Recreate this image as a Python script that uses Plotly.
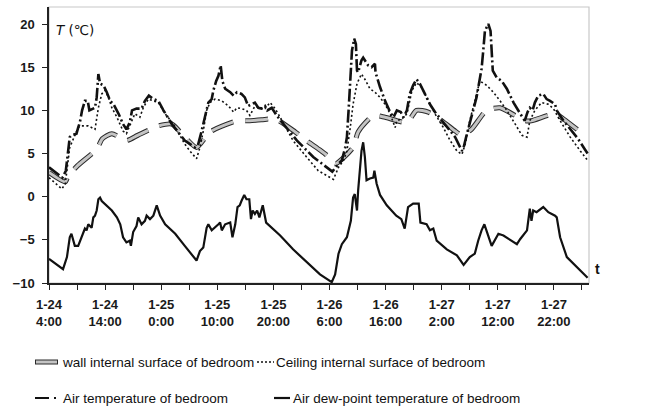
import plotly.graph_objects as go

# hours since 1-24 4:00
dew_h = [0, 2.5, 3.2, 3.7, 4.0, 4.6, 5.2, 5.8, 6.4, 6.7, 7.0, 7.6, 7.9, 8.2, 8.5, 8.8, 9.1, 9.4, 10.3, 11.2,
         12.1, 12.7, 13.2, 13.8, 14.4, 14.6, 15.0, 15.6, 15.9, 16.5, 17.1, 17.4, 18.0, 18.6, 19.2, 19.8, 20.7,
         22.5, 24.2, 26.3, 26.9, 27.5, 28.1, 28.4, 29.0, 29.6, 30.2, 30.5, 30.8, 31.4, 32.3, 32.7, 33.2, 33.6,
         34.0, 34.3, 34.8, 35.2, 35.7, 36.0, 36.3, 36.7, 37.1, 37.5, 38.1, 38.7, 39.4, 41.2, 43.5, 45.9, 48.3,
         50.4, 51.0, 51.6, 52.2, 53.1, 53.4, 53.8, 54.2, 54.5, 54.9, 55.1, 55.7, 56.0, 56.3, 56.6, 57.2, 57.8,
         58.0, 58.4, 59.0, 60.2, 61.9, 62.8, 63.4, 64.0, 64.9, 65.9, 66.2, 67.3, 67.9, 68.5, 69.1, 70.9, 72.7,
         73.9, 75.0, 75.9, 76.5, 77.1, 77.6, 78.9, 80.1, 81.0, 83.4, 84.0, 85.2, 85.7, 86.0, 86.3, 86.9, 88.1,
         89.0, 90.2, 90.5, 91.1, 92.3, 94.1, 96.0]
dew_v = [-7.2, -8.4, -7.0, -4.7, -4.3, -5.7, -5.7, -4.7, -3.7, -3.9, -3.2, -3.6, -2.4, -2.2, -1.6, -0.3, -0.1, -0.5, -1.0, -1.6,
         -2.4, -3.2, -4.7, -5.3, -5.1, -5.7, -4.1, -3.4, -2.4, -3.2, -2.8, -2.2, -2.6, -2.2, -1.0, -2.2, -3.2,
         -4.3, -5.7, -7.4, -6.3, -5.9, -3.6, -3.2, -3.9, -3.6, -3.2, -3.0, -3.9, -3.2, -3.0, -4.7, -3.2, -1.2,
         -1.0, -0.5, 0.2, -0.3, -0.3, -2.6, -1.6, -2.0, -1.6, -2.4, -1.0, -3.0, -3.4, -4.5, -6.1, -7.6, -9.0,
         -9.9, -9.0, -6.6, -5.5, -4.7, -3.9, -2.8, -0.1, 0.3, -1.6, 0.7, 5.3, 6.3, 4.6, 1.9, 2.1, 2.2,
         3.0, 1.5, 0.2, -1.0, -2.2, -2.6, -3.7, -1.2, -0.8, -0.8, -3.0, -3.2, -3.9, -3.7, -5.1, -6.1, -6.8,
         -7.9, -7.0, -6.6, -5.1, -3.9, -3.2, -5.7, -4.3, -4.5, -5.5, -4.9, -3.9, -1.4, -2.8, -1.6, -1.8, -1.2,
         -1.8, -2.2, -2.4, -4.7, -7.0, -8.2, -9.4]

air_h = [0, 2.4, 3.0, 3.4, 3.7, 4.0, 4.9, 5.2, 5.5, 5.9, 6.4, 6.9, 7.2, 8.2, 8.5, 8.8, 9.1, 9.7, 10.3, 10.9,
         11.5, 12.4, 13.2, 13.8, 14.4, 14.8, 15.6, 16.5, 17.1, 17.8, 18.6, 19.5, 20.4, 21.9, 23.0, 24.2, 26.0,
         26.6, 27.2, 27.8, 28.4, 29.0, 29.3, 29.8, 30.2, 30.6, 30.9, 31.4, 32.3, 32.9, 33.5, 34.3, 34.9, 35.5,
         36.1, 36.7, 37.3, 37.9, 38.5, 38.9, 39.7, 40.6, 41.8, 44.2, 47.1, 48.3, 50.5, 51.6, 52.2, 52.8, 53.1,
         53.4, 53.7, 54.0, 54.4, 54.7, 54.9, 55.1, 55.7, 56.0, 56.9, 57.5, 58.1, 58.2, 59.0, 59.9, 60.8, 61.4,
         62.0, 62.7, 63.2, 63.8, 64.3, 64.9, 65.5, 66.1, 67.0, 67.9, 68.8, 70.3, 72.4, 73.6, 73.9, 74.5, 75.0,
         75.6, 76.2, 76.7, 77.1, 77.4, 77.7, 78.3, 78.7, 78.9, 79.1, 79.8, 80.7, 81.6, 82.8, 84.0, 84.8, 85.3,
         85.7, 86.2, 86.6, 87.2, 88.1, 88.7, 89.3, 90.2, 90.5, 91.7, 92.9, 94.3, 95.5, 96.0]
air_v = [3.4, 2.2, 3.0, 5.7, 6.9, 7.1, 7.3, 8.0, 8.6, 10.0, 11.1, 11.1, 10.0, 10.3, 11.5, 14.2, 13.1, 12.9, 12.1, 11.1,
         10.7, 9.6, 8.4, 7.8, 8.6, 10.0, 10.2, 10.2, 11.1, 11.7, 11.3, 11.1, 10.0, 8.4, 7.5, 6.5, 5.7,
         6.1, 7.6, 9.2, 10.9, 11.3, 12.3, 13.4, 14.0, 15.2, 13.4, 12.5, 12.1, 11.7, 12.1, 11.9, 11.5, 10.5,
         10.7, 10.9, 10.3, 10.2, 10.5, 10.0, 10.3, 9.4, 8.4, 6.5, 4.6, 4.0, 2.9, 3.8, 4.2, 5.7, 6.9,
         10.0, 13.1, 16.9, 18.3, 17.7, 14.6, 14.4, 15.8, 16.1, 15.2, 15.0, 15.4, 14.4, 12.7, 11.1, 9.8, 9.2,
         10.0, 9.8, 9.2, 10.0, 11.9, 12.9, 13.6, 13.1, 11.9, 10.7, 9.8, 8.6, 6.9, 5.3, 5.7, 7.3, 8.4,
         10.0, 11.5, 13.1, 14.8, 16.9, 19.2, 20.0, 19.2, 16.9, 14.6, 13.8, 13.4, 12.5, 10.9, 9.6, 8.8, 9.8,
         10.3, 10.0, 10.9, 11.7, 11.9, 11.3, 11.1, 10.7, 10.0, 8.8, 7.8, 6.7, 5.5, 5.0]

ceil_h = [0, 2.3, 2.9, 3.3, 3.7, 4.6, 5.2, 5.8, 7.0, 8.2, 8.8, 9.4, 10.0, 10.6, 11.2, 12.1, 13.2, 13.8, 14.7,
          15.3, 16.2, 16.8, 17.7, 18.6, 19.5, 20.7, 22.2, 24.2, 25.1, 26.3, 26.9, 27.5, 28.1, 28.7, 29.6, 30.8,
          32.0, 32.9, 33.5, 34.3, 35.2, 35.8, 36.7, 37.6, 38.5, 39.4, 40.3, 41.2, 43.5, 45.9, 48.0, 50.7, 51.6,
          52.5, 53.1, 53.7, 54.2, 54.9, 55.7, 56.3, 57.2, 58.1, 59.0, 59.9, 60.8, 61.7, 62.0, 62.9, 63.8, 64.7,
          65.5, 66.4, 67.6, 68.8, 70.3, 71.5, 72.7, 73.6, 74.2, 75.0, 75.9, 76.8, 78.0, 79.2, 80.4, 81.6, 83.1,
          84.3, 85.2, 85.7, 86.6, 87.8, 89.0, 89.9, 91.1, 92.9, 94.7, 96.0]
ceil_v = [2.2, 0.9, 1.5, 3.4, 5.7, 7.1, 8.0, 8.2, 8.2, 7.8, 10.3, 11.9, 12.3, 11.5, 10.3, 9.2, 7.6, 7.3, 8.8,
          9.6, 9.2, 10.3, 11.3, 11.1, 10.9, 9.6, 8.4, 6.1, 5.3, 4.4, 5.7, 7.6, 10.0, 10.9, 11.3, 11.1,
          10.5, 9.8, 10.3, 10.2, 10.0, 9.4, 10.5, 10.3, 10.2, 10.9, 10.2, 9.2, 6.5, 4.6, 3.0, 2.0, 3.4,
          4.2, 5.3, 8.0, 10.7, 13.1, 14.2, 13.6, 12.5, 12.1, 11.5, 10.7, 9.6, 8.0, 8.8, 9.0, 9.6, 12.3,
          13.2, 12.7, 11.1, 9.6, 8.0, 6.5, 5.3, 4.9, 6.1, 8.8, 11.1, 13.4, 12.9, 12.1, 11.1, 10.0, 8.4,
          7.1, 6.9, 8.8, 10.0, 10.9, 10.7, 10.2, 8.8, 6.9, 5.3, 4.2]

wall_h = [0, 2.9, 3.4, 5.1, 8.5, 9.5, 11.2, 13.8, 15.8, 19.5, 21.9, 24.2, 26.3, 28.7, 32.6, 33.7, 35.8, 37.9,
          40.3, 43.9, 45.9, 48.3, 49.5, 51.0, 54.2, 55.1, 57.8, 59.9, 63.8, 65.5, 67.6, 70.0, 72.4, 73.6, 75.3,
          78.0, 80.4, 84.8, 86.0, 90.2, 91.7, 95.5]
wall_v = [2.8, 1.7, 2.4, 3.6, 5.5, 6.7, 7.3, 6.5, 7.1, 8.2, 8.4, 6.9, 5.7, 7.5, 8.6, 8.8, 8.8, 8.9,
          9.0, 7.5, 6.5, 5.4, 4.8, 3.8, 5.7, 7.5, 9.4, 9.2, 8.6, 10.0, 9.8, 8.8, 7.6, 7.1, 7.8,
          10.0, 10.3, 8.8, 8.8, 9.6, 9.0, 7.1]

tick_hours = [0, 10, 20, 30, 40, 50, 60, 70, 80, 90]
tick_text = ["1-24<br>4:00", "1-24<br>14:00", "1-25<br>0:00", "1-25<br>10:00", "1-25<br>20:00",
             "1-26<br>6:00", "1-26<br>16:00", "1-27<br>2:00", "1-27<br>12:00", "1-27<br>22:00"]

names = ["wall internal surface of bedroom", "Ceiling internal surface of bedroom",
         "Air temperature of bedroom", "Air dew-point temperature of bedroom"]

WALL_DASH = "23px,12px"
fig = go.Figure()
fig.add_trace(go.Scatter(x=wall_h, y=wall_v, mode="lines", name=names[0],
                         line=dict(color="#2a2a2a", width=5, dash=WALL_DASH, shape="spline", smoothing=0.6),
                         showlegend=False, hoverinfo="skip"))
fig.add_trace(go.Scatter(x=wall_h, y=wall_v, mode="lines", name=names[0],
                         line=dict(color="#c4c4c4", width=3, dash=WALL_DASH, shape="spline", smoothing=0.6),
                         showlegend=False))
fig.add_trace(go.Scatter(x=ceil_h, y=ceil_v, mode="lines", name=names[1],
                         line=dict(color="#111111", width=1.6, dash="2px,2.5px"), showlegend=False))
fig.add_trace(go.Scatter(x=air_h, y=air_v, mode="lines", name=names[2],
                         line=dict(color="#111111", width=2.6, dash="13px,3px,2px,3px"), showlegend=False))
fig.add_trace(go.Scatter(x=dew_h, y=dew_v, mode="lines", name=names[3],
                         line=dict(color="#111111", width=2.2), showlegend=False))

L, R, T, B = 49, 589, 7, 283
W, H = 665, 412

def px(x):
    return (x - L) / (R - L)

def py(y):
    return (B - y) / (B - T)

shapes = [dict(type="rect", xref="paper", yref="paper", x0=0, x1=1, y0=0, y1=1,
               line=dict(color="#c8c8c8", width=1.2), layer="below")]
annotations = []

# legend samples (manual legend)
r1, r2 = py(362), py(398)
shapes += [
    dict(type="line", xref="paper", yref="paper", x0=px(35), x1=px(58), y0=r1, y1=r1,
         line=dict(color="#2a2a2a", width=5)),
    dict(type="line", xref="paper", yref="paper", x0=px(36), x1=px(57), y0=r1, y1=r1,
         line=dict(color="#c4c4c4", width=3)),
    dict(type="line", xref="paper", yref="paper", x0=px(257), x1=px(274), y0=r1, y1=r1,
         line=dict(color="#111111", width=1.5, dash="2px,2px")),
    dict(type="line", xref="paper", yref="paper", x0=px(35), x1=px(58), y0=r2, y1=r2,
         line=dict(color="#111111", width=2.2, dash="14px,5px,2px,10px")),
    dict(type="line", xref="paper", yref="paper", x0=px(274), x1=px(290), y0=r2, y1=r2,
         line=dict(color="#111111", width=2.2)),
]
leg_font = dict(family="Liberation Sans, Arial, sans-serif", size=13.5, color="#111111")
for xpos, ypos, txt in [(60, r1, names[0]), (274, r1, names[1]), (61, r2, names[2]), (291, r2, names[3])]:
    annotations.append(dict(xref="paper", yref="paper", x=px(xpos), y=ypos, text=txt, showarrow=False,
                            xanchor="left", yanchor="middle", font=leg_font))

annotations.append(dict(xref="paper", yref="paper", x=px(54), y=py(30), text="<i>T</i> (℃)",
                        showarrow=False, xanchor="left", yanchor="middle",
                        font=dict(family="DejaVu Sans, Liberation Sans, sans-serif", size=13.5, color="#111111")))
annotations.append(dict(xref="paper", yref="paper", x=px(593), y=py(269), text="<b>t</b>",
                        showarrow=False, xanchor="left", yanchor="middle",
                        font=dict(family="Liberation Sans, Arial, sans-serif", size=14, color="#111111")))

tick_font = dict(family="Liberation Sans, Arial, sans-serif", size=13, color="#1a1a1a", weight="bold")

fig.update_layout(
    width=W, height=H,
    margin=dict(l=L, r=W - R, t=T, b=H - B),
    paper_bgcolor="white", plot_bgcolor="white",
    shapes=shapes, annotations=annotations,
    showlegend=False,
    xaxis=dict(range=[0, 96.25], tickvals=tick_hours, ticktext=tick_text, ticks="outside", ticklen=5,
               tickcolor="#222222", tickwidth=1.3, showgrid=False, zeroline=False, showline=True,
               linecolor="#222222", linewidth=1.5, tickfont=tick_font, ticklabelstandoff=4,
               minor=dict(ticks="outside", dtick=5, tick0=0, ticklen=5, tickcolor="#222222", tickwidth=1.3,
                          showgrid=False)),
    yaxis=dict(range=[-10, 21.97], tickvals=[-10, -5, 0, 5, 10, 15, 20], ticks="outside", ticklen=5,
               tickcolor="#222222", tickwidth=1.3, showgrid=False, zeroline=False, showline=True,
               linecolor="#222222", linewidth=1.5, tickfont=tick_font, ticklabelstandoff=5),
)

fig.write_html("out.html")
